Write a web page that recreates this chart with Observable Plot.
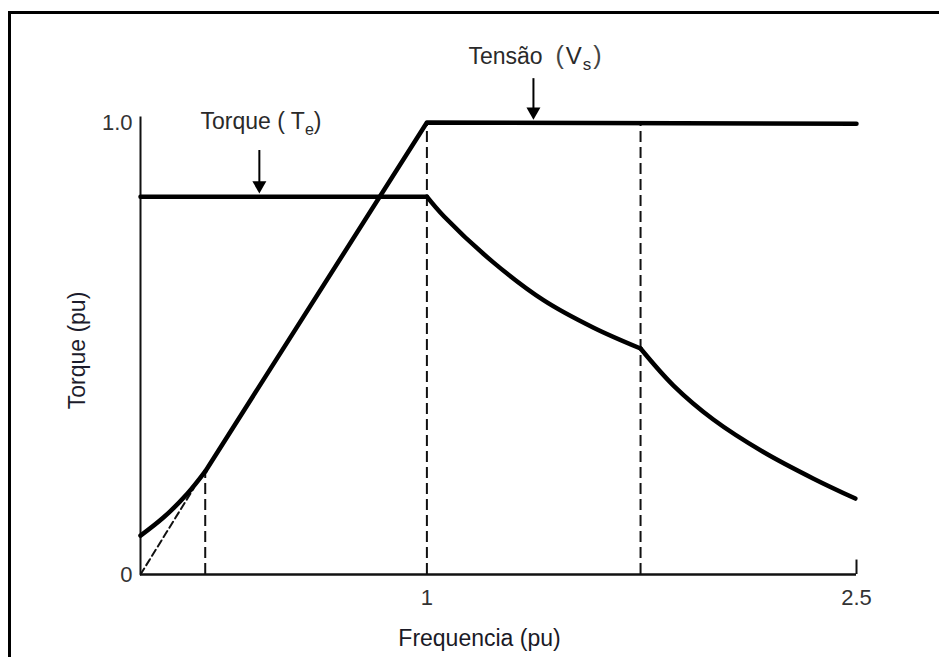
<!DOCTYPE html>
<html><head><meta charset="utf-8">
<script src="https://cdn.jsdelivr.net/npm/d3@7"></script>
<script src="https://cdn.jsdelivr.net/npm/@observablehq/plot@0.6"></script>
<style>
html,body{margin:0;padding:0;background:#fff;overflow:hidden;width:939px;height:657px;}
#chart{position:absolute;left:0;top:0;}
#frame{position:absolute;left:8px;top:11px;width:1000px;height:700px;border-left:3px solid #000;border-top:3px solid #000;pointer-events:none;}
</style></head>
<body><div id="chart"></div><div id="frame"></div>
<script>
// Voltage (Vs) – boost region near zero frequency
const voltBoostF = [0, 0.08, 0.164, 0.226];
const voltBoostV = [0.086, 0.126, 0.179, 0.228];
// Voltage – linear V/f region and constant region
const voltLinF = [0.226, 1, 2.5];
const voltLinV = [0.228, 1, 0.997];
// Torque (Te) – constant torque region
const torqFlatF = [0, 1];
const torqFlatT = [0.836, 0.836];
// Torque – constant power region
const torqCPF = [1, 1.06, 1.233, 1.407, 1.582, 1.746];
const torqCPT = [0.836, 0.792, 0.69, 0.607, 0.546, 0.5];
// Torque – high speed region
const torqHSF = [1.746, 1.861, 2.0, 2.175, 2.35, 2.496];
const torqHST = [0.5, 0.418, 0.343, 0.271, 0.212, 0.168];
// Dashed guides
const guideF = [0.226, 1, 1.746];
const guideTop = [0.228, 1, 1];
const diagF = [0, 0.185];
const diagV = [0, 0.19];
// Ticks
const xTicks = [1, 2.5];
const xTickLabels = ["1", "2.5"];
const yTicks = [0, 1];
const yTickLabels = ["0", "1.0"];
// Annotations
const annoText = ["Torque ( T_e)", "Tensão  (V_s)"];
const annoF = [0.2095, 1.145];
const annoV = [1.001, 1.145];
const arrowF = [0.415, 1.372];
const arrowTop = [0.938, 1.097];
const arrowHead = [0.861, 1.024];
const xLabel = "Frequencia (pu)";
const yLabel = "Torque (pu)";

const pts = (fs, vs) => fs.map((f, i) => ({x: f, y: vs[i]}));
const font = "'Liberation Sans', Arial, Helvetica, sans-serif";

const chart = Plot.plot({
  width: 939, height: 657,
  marginLeft: 140, marginRight: 83, marginTop: 122, marginBottom: 83,
  x: {domain: [0, 2.5]},
  y: {domain: [0, 1]},
  style: {fontFamily: font, background: "transparent", overflow: "visible"},
  marks: [
    // dashed guides
    Plot.ruleX(guideF.map((f, i) => ({x: f, top: guideTop[i]})), {x: "x", y1: 0, y2: "top", stroke: "#111", strokeWidth: 2, strokeDasharray: "11,5"}),
    Plot.line(pts(diagF, diagV), {x: "x", y: "y", stroke: "#111", strokeWidth: 2, strokeDasharray: "7,4"}),
    // axes lines
    Plot.ruleX([0], {y1: 0, y2: 1.012, stroke: "#111", strokeWidth: 2}),
    Plot.ruleY([0], {x1: 0, x2: 2.5, stroke: "#111", strokeWidth: 2.5}),
    Plot.ruleX([2.5], {y1: 0, y2: 0.032, stroke: "#111", strokeWidth: 2}),
    // curves
    Plot.line(pts(voltBoostF, voltBoostV), {x: "x", y: "y", curve: "natural", stroke: "#000", strokeWidth: 4.5}),
    Plot.line(pts(voltLinF, voltLinV), {x: "x", y: "y", stroke: "#000", strokeWidth: 4.5, strokeLinejoin: "round"}),
    Plot.line(pts(torqFlatF, torqFlatT), {x: "x", y: "y", stroke: "#000", strokeWidth: 4.5}),
    Plot.line(pts(torqCPF, torqCPT), {x: "x", y: "y", curve: "catmull-rom", stroke: "#000", strokeWidth: 4.5}),
    Plot.line(pts(torqHSF, torqHST), {x: "x", y: "y", curve: "catmull-rom", stroke: "#000", strokeWidth: 4.5}),
    // axes
    Plot.axisX({ticks: xTicks, tickFormat: d => xTickLabels[xTicks.indexOf(d)], tickSize: 0, tickPadding: 15, fontSize: 22, color: "#333", label: null}),
    Plot.axisY({ticks: yTicks, tickFormat: d => yTickLabels[yTicks.indexOf(d)], tickSize: 0, tickPadding: 8, fontSize: 22, color: "#333", label: null}),
    Plot.text([xLabel], {frameAnchor: "bottom", dx: -19, dy: 64, text: d => d, textAnchor: "middle", lineAnchor: "middle", fontSize: 23, fill: "#1a1a26"}),
    Plot.text([yLabel], {frameAnchor: "left", dx: -63, dy: 2, text: d => d, rotate: -90, textAnchor: "middle", lineAnchor: "middle", fontSize: 23, fill: "#1c1c2c"}),
    // annotations
    Plot.text(annoText, {x: (d, i) => annoF[i], y: (d, i) => annoV[i], text: d => d, textAnchor: "start", lineAnchor: "middle", fontSize: 23, fill: "#2a2a2a"}),
    Plot.ruleX(arrowF.map((f, i) => ({x: f, a: arrowTop[i], b: arrowHead[i]})), {x: "x", y1: "a", y2: "b", stroke: "#000", strokeWidth: 2}),
    Plot.dot(arrowF.map((f, i) => ({x: f, y: arrowHead[i]})), {x: "x", y: "y", symbol: "triangle", r: 5.2, rotate: 180, fill: "#000", stroke: "none"})
  ]
});

// subscripts
d3.select(chart).selectAll("text").each(function() {
  const t = this.textContent;
  if (!t.includes("_")) return;
  const k = t.indexOf("_");
  const before = t.slice(0, k), sub = t.slice(k + 1, k + 2), after = t.slice(k + 2);
  const wide = before.includes("  ");
  const sel = d3.select(this);
  sel.text(null).style("white-space", "pre");
  if (wide) {
    const j = before.indexOf("(");
    sel.append("tspan").text(before.slice(0, j));
    sel.append("tspan").attr("font-size", "25px").attr("fill", "#444").text("(");
    sel.append("tspan").attr("font-size", "24px").attr("dx", "2px").text(before.slice(j + 1));
    sel.append("tspan").attr("font-size", "17px").attr("dy", "6px").attr("dx", "1px").text(sub);
    sel.append("tspan").attr("font-size", "25px").attr("fill", "#444").attr("dy", "-6px").attr("dx", "2px").text(after);
  } else {
    sel.append("tspan").text(before);
    sel.append("tspan").attr("font-size", "16px").attr("dy", "6px").text(sub);
    sel.append("tspan").attr("dy", "-6px").text(after);
  }
});

document.getElementById("chart").appendChild(chart);
</script>
</body></html>
